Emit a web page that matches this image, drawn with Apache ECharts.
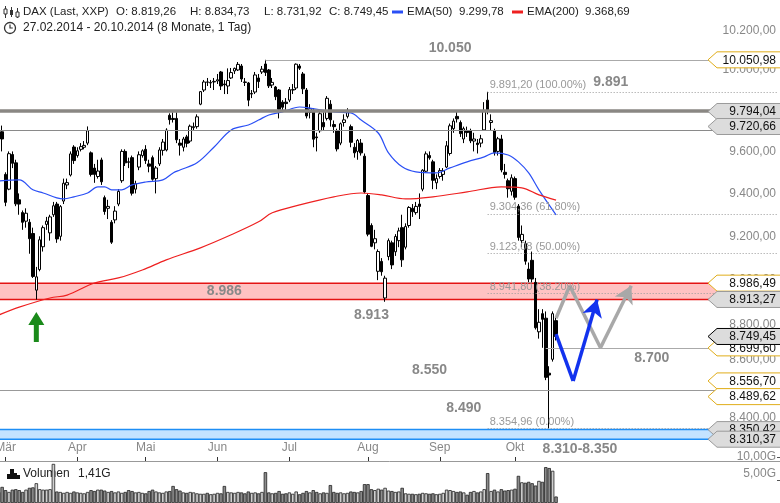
<!DOCTYPE html>
<html><head><meta charset="utf-8">
<script src="https://cdn.jsdelivr.net/npm/echarts@6/dist/echarts.min.js"></script>
<style>html,body{margin:0;padding:0;background:#fff}#c{width:780px;height:503px}</style>
</head><body><div id="c"></div>
<script>
// ---------- data ----------
const monthDays = [
  ['02', [27,28]],
  ['03', [3,4,5,6,7,10,11,12,13,14,17,18,19,20,21,24,25,26,27,28,31]],
  ['04', [1,2,3,4,7,8,9,10,11,14,15,16,17,22,23,24,25,28,29,30]],
  ['05', [2,5,6,7,8,9,12,13,14,15,16,19,20,21,22,23,26,27,28,29,30]],
  ['06', [2,3,4,5,6,9,10,11,12,13,16,17,18,19,20,23,24,25,26,27,30]],
  ['07', [1,2,3,4,7,8,9,10,11,14,15,16,17,18,21,22,23,24,25,28,29,30,31]],
  ['08', [1,4,5,6,7,8,11,12,13,14,15,18,19,20,21,22,25,26,27,28,29]],
  ['09', [1,2,3,4,5,8,9,10,11,12,15,16,17,18,19,22,23,24,25,26,29,30]],
  ['10', [1,2,6,7,8,9,10,13,14,15,16,17,20]]
];
const dates = [];
monthDays.forEach(([m, days]) => days.forEach(d => dates.push('2014-' + m + '-' + String(d).padStart(2,'0'))));

const open = [9610,9695,9490,9420,9585,9545,9370,9310,9270,9265,
9213,8955,9048,9152,9255,9216,9300,9350,9200,9364,
9440,9487,9621,9580,9610,9620,9640,9593,9520,9480,
9559,9380,9330,9265,9276,9350,9460,9600,9550,9570,
9420,9525,9580,9610,9540,9570,9470,9540,9605,9607,
9775,9760,9760,9640,9620,9670,9650,9715,9720,9830,
9900,9940,9935,9940,9945,9990,9930,9920,9960,9995,
10000,10020,9940,9935,9880,9890,9960,9990,10030,10000,
9925,9915,9900,9840,9840,9850,9900,9910,10020,9980,
9900,9790,9800,9670,9700,9740,9760,9830,9730,9700,
9640,9740,9770,9720,9620,9600,9640,9577,9390,9250,
9170,9040,9085,8920,9107,9170,9129,9180,9240,9150,
9250,9330,9310,9350,9420,9505,9580,9550,9450,9480,
9490,9525,9590,9710,9770,9740,9660,9700,9700,9650,
9640,9640,9704,9850,9740,9700,9600,9660,9500,9460,
9410,9470,9340,9180,9166,9050,9090,8990,8770,8850,
8830,8590,8650,8819.26];
const high = [9712,9725,9500,9600,9600,9560,9400,9320,9330,9280,
9240,9060,9200,9250,9290,9300,9360,9360,9345,9470,
9470,9600,9630,9620,9640,9650,9721,9600,9540,9560,
9570,9390,9370,9275,9340,9420,9610,9610,9570,9580,
9460,9600,9610,9630,9560,9580,9530,9620,9660,9712,
9785,9790,9790,9660,9670,9680,9730,9740,9780,9895,
9950,9960,9950,9960,9980,9995,9950,10008,10010,10012,
10040,10030,9960,9940,9900,9990,9980,10020,10051,10005,
9960,9920,9905,9850,9860,9915,9930,10033,10030,9990,
9910,9830,9810,9690,9800,9790,9870,9850,9750,9710,
9740,9780,9810,9730,9640,9660,9660,9590,9400,9260,
9230,9140,9100,9020,9190,9180,9210,9240,9300,9260,
9340,9350,9360,9400,9515,9600,9600,9560,9490,9520,
9520,9650,9735,9760,9800,9750,9720,9720,9710,9690,
9660,9680,9840,9891.2,9780,9710,9670,9680,9540,9470,
9490,9480,9350,9250,9180,9080,9130,9010,8870,8870,
8860,8620,8860,8834.73];
const low = [9590,9600,9340,9415,9520,9340,9300,9230,9240,9120,
9010,8913.27,9040,9130,9230,9180,9290,9170,9180,9350,
9420,9480,9540,9570,9600,9610,9630,9480,9450,9470,
9440,9300,9280,9165,9260,9340,9450,9530,9520,9390,
9400,9510,9570,9540,9500,9460,9400,9530,9580,9600,
9730,9740,9640,9580,9600,9620,9640,9700,9710,9825,
9890,9920,9910,9900,9930,9900,9880,9880,9955,9980,
9995,9940,9920,9820,9860,9880,9910,9980,9970,9910,
9910,9850,9760,9800,9800,9840,9880,9900,10000,9880,
9760,9760,9620,9600,9690,9700,9750,9720,9690,9600,
9630,9720,9760,9620,9570,9560,9580,9400,9200,9150,
9140,9000,9020,8903,9090,9050,9110,9150,9060,9140,
9240,9290,9300,9280,9410,9500,9560,9420,9420,9470,
9460,9520,9580,9690,9740,9670,9640,9670,9640,9600,
9590,9620,9700,9780,9700,9580,9580,9500,9470,9380,
9390,9370,9180,9150,9070,8990,8990,8780,8740,8700,
8560,8354.96,8640,8731.92];
const close = [9700,9660,9358,9589,9543,9351,9350,9265,9307,9189,
9017,9015,9184,9240,9270,9290,9342,9188,9338,9448,
9451,9588,9556,9603,9623,9629,9700,9490,9490,9506,
9455,9315,9339,9173,9317,9409,9600,9545,9548,9401,
9446,9584,9603,9556,9529,9467,9521,9607,9645,9703,
9754,9755,9656,9630,9660,9639,9722,9720,9768,9892,
9940,9939,9938,9943,9951,9920,9926,9947,9987,10008,
10028,9955,9938,9850,9883,9975,9942,10004,9987,9921,
9938,9867,9805,9815,9833,9902,9902,10029,10009,9906,
9772,9808,9659,9666,9783,9719,9859,9753,9720,9612,
9734,9753,9797,9644,9593,9653,9593,9407,9210,9154,
9189,9130,9038,9009,9180,9069,9199,9225,9092,9245,
9334,9314,9339,9339,9510,9588,9569,9462,9470,9508,
9507,9627,9724,9747,9758,9686,9710,9691,9651,9660,
9633,9661,9798,9799,9749,9595,9661,9511,9490,9422,
9474,9382,9195,9209,9086,9005,9005,8788,8812,8825,
8572,8582,8850,8749.45];
// volume in billions (G)
const volume = [2.4,3.5,2.8,2.4,2.9,3.0,2.8,2.4,2.9,3.3,
3.4,4.3,3.0,2.9,2.9,3.0,8.5,2.5,2.4,2.2,
2.4,2.2,2.5,2.3,2.2,2.1,2.4,2.8,2.6,2.9,
2.9,2.7,2.4,2.6,2.3,2.5,2.2,2.4,2.8,2.6,
2.3,2.4,2.2,2.1,2.6,2.9,2.5,2.3,2.2,2.5,
2.6,3.7,3.0,2.7,2.3,2.2,2.4,2.3,2.1,2.0,
2.0,2.2,1.9,2.0,2.2,2.1,3.7,2.4,2.3,2.2,
2.4,2.3,2.1,2.5,2.2,2.3,2.1,2.4,6.7,2.3,
2.1,2.2,2.6,2.0,2.1,2.3,2.0,2.5,1.9,2.2,
2.6,2.3,2.8,2.4,2.1,2.3,2.2,3.9,2.4,2.2,
2.3,2.1,2.2,2.5,2.4,2.3,2.6,4.1,4.1,3.0,
2.8,3.1,2.9,3.3,2.7,2.6,2.4,2.5,3.3,2.1,
2.0,2.0,1.9,2.0,2.2,2.1,2.0,2.1,1.9,2.0,
2.2,2.9,2.8,2.6,2.4,2.5,2.3,1.8,2.4,2.6,
2.3,2.5,3.0,6.5,2.6,2.9,2.5,3.0,2.7,2.8,
2.9,3.1,5.9,4.5,4.4,4.6,4.3,3.8,4.8,4.6,
7.8,7.6,7.0,1.41];

// EMA readings: [day index, value]
const ema50Idx = [0,6,10,13,17,19,22,26,29,31,33,36,39,43,48,51,53,58,63,68,73,76,79,83,88,91,98,103,106,111,114,118,122,128,132,137,142,145,149,152,155,158,163];
const ema50Val = [9459,9464,9417,9402,9379,9374,9384,9402,9431,9431,9417,9417,9440,9454,9464,9497,9511,9545,9621,9704,9728,9752,9777,9792,9816,9811,9792,9787,9752,9689,9593,9526,9502,9497,9521,9550,9574,9593,9583,9550,9497,9417,9299.78];
const ema200Idx = [0,6,15,20,28,35,42,49,59,68,76,80,88,98,106,112,119,127,137,147,153,158,163];
const ema200Val = [8844,8879,8920,8933,8987,9010,9046,9092,9147,9207,9267,9309,9346,9384,9402,9393,9374,9384,9407,9431,9426,9393,9368.69];

// levels
const yTicks = [8400,8600,8800,9000,9200,9400,9600,9800,10000,10200];
const volTicks = [5,10];
const fibValues = [9891.20, 9304.36, 9123.08, 8941.80, 8354.96];
const fibPct = ['100.00%','61.80%','50.00%','38.20%','0.00%'];
const fibStart = 143;
const tagValues = [10050.98, 9794.04, 9720.66, 8986.49, 8913.27, 8699.60, 8749.45, 8556.70, 8489.62, 8350.42, 8310.37];
const tagKinds  = ['y','g','g','y','g','y','c','y','y','g','g'];
const redZone = [8986.49, 8913.27];
const blueZone = [8350.42, 8310.37];
const athStart = 78, ath = 10050.98;
const l8700Start = 160, l8700 = 8699.60;

// annotations (text, anchor day index, anchor value)
const annoText = ['10.050','9.891','8.986','8.913','8.700','8.550','8.490','8.310-8.350'];
const annoIdx  = [132, 179, 66, 109, 191, 126, 136, 170];
const annoVal  = [10111, 9940, 8951, 8844, 8656, 8604, 8441, 8270];

// projected paths
const grayIdx = [163, 167, 176, 185];
const grayVal = [8830, 8975, 8700, 8975];
const blueIdx = [163, 168, 175];
const blueVal = [8760, 8556.7, 8913];

const arrowIdx = 11, arrowVal = 8791;

// ---------- helpers ----------
const L = Math.log;
function de(v, d) {
  const s = v.toFixed(d);
  let [i, f] = s.split('.');
  i = i.replace(/\B(?=(\d{3})+(?!\d))/g, '.');
  return f ? i + ',' + f : i;
}
const FONT = '"Liberation Sans", Arial, sans-serif';
const N = 229;
const cats = dates.concat(Array(N - dates.length).fill(0).map((_, k) => 'f' + k));
const monthStarts = [];
for (let i = 1; i < dates.length; i++) if (dates[i].slice(5,7) !== dates[i-1].slice(5,7)) monthStarts.push(i);
const MONTHS = ['Jan','Feb','Mär','Apr','Mai','Jun','Jul','Aug','Sep','Okt','Nov','Dez'];

const candleData = dates.map((d, i) => [L(open[i]), L(close[i]), L(low[i]), L(high[i])]);

function segs(idx, val, color) {
  const out = [];
  for (let k = 0; k < idx.length - 1; k++) {
    const last = k === idx.length - 2;
    out.push([
      {coord: [idx[k], L(val[k])], symbol: 'none', lineStyle: {color, width: 3.5, type: 'solid'}},
      {coord: [idx[k+1], L(val[k+1])], symbol: last ? 'arrow' : 'none', symbolSize: last ? [15, 17] : 0}
    ]);
  }
  return out;
}

const levelLines = [
  {yAxis: L(9794.04), lineStyle: {color: '#8a8783', width: 3.5, type: 'solid'}},
  {yAxis: L(9720.66), lineStyle: {color: '#8a8a8a', width: 1.2, type: 'solid'}},
  {yAxis: L(8556.70), lineStyle: {color: '#999', width: 1.2, type: 'solid'}},
  {yAxis: L(8489.62), lineStyle: {color: '#999', width: 1.2, type: 'solid'}},
  [{coord: [athStart, L(ath)], lineStyle: {color: '#aaa', width: 1.2, type: 'solid'}}, {coord: [N - 1, L(ath)]}],
  [{coord: [l8700Start, L(l8700)], lineStyle: {color: '#aaa', width: 1.2, type: 'solid'}}, {coord: [N - 1, L(l8700)]}]
];
fibValues.forEach((v, k) => {
  levelLines.push([
    {coord: [fibStart, L(v)], lineStyle: {color: '#999', width: 1, type: [1, 2]},
     label: {show: true, position: 'insideStartTop', distance: [2, 1], formatter: de(v, 2) + ' (' + fibPct[k] + ')',
             color: '#999', fontSize: 11, fontFamily: FONT}},
    {coord: [N - 1, L(v)]}
  ]);
});

const chart = echarts.init(document.getElementById('c'), null, {renderer: 'canvas'});
chart.setOption({
  animation: false,
  backgroundColor: '#fff',
  grid: [
    {left: -3, right: 0, top: 0, bottom: 42, containLabel: false, outerBoundsMode: 'none'},
    {left: -3, right: 0, top: 455, bottom: 0, containLabel: false, outerBoundsMode: 'none'}
  ],
  xAxis: [
    {type: 'category', gridIndex: 0, data: cats, boundaryGap: true, show: false},
    {type: 'category', gridIndex: 1, data: cats, boundaryGap: true, show: false},
    // month axis (same scale as the day index: -0.5 .. N-0.5)
    {type: 'value', gridIndex: 0, position: 'bottom', min: -0.5, max: N - 0.5,
     axisLine: {show: true, onZero: false, lineStyle: {color: '#999', width: 1}},
     axisTick: {show: true, inside: true, length: 4, customValues: monthStarts, lineStyle: {color: '#333'}},
     axisLabel: {show: true, inside: true, margin: 7, customValues: monthStarts, color: '#888', fontSize: 12, fontFamily: FONT,
                 formatter: (v) => { const d = dates[Math.round(v)]; return d ? MONTHS[parseInt(d.slice(5,7), 10) - 1] : ''; }},
     splitLine: {show: false}}
  ],
  yAxis: [
    {type: 'value', gridIndex: 0, position: 'right', min: L(8220), max: L(10357),
     splitLine: {show: false}, axisLine: {show: false},
     axisTick: {show: true, inside: true, length: 3, customValues: yTicks.map(L), lineStyle: {color: '#555'}},
     axisLabel: {show: true, inside: true, margin: 4, customValues: yTicks.map(L), color: '#888', fontSize: 12, fontFamily: FONT,
                 formatter: (v) => {
                   const n = Math.round(Math.exp(v));
                   const t = de(n, 2);
                   return n === 8600 ? '{s|' + t + '}' : t;
                 },
                 rich: {s: {color: '#888', fontSize: 12, fontFamily: FONT, padding: [0, 0, 22, 0]}}}},
    {type: 'value', gridIndex: 1, position: 'right', min: 0, max: 10.43,
     splitLine: {show: false}, axisLine: {show: false},
     axisTick: {show: true, inside: true, length: 3, customValues: volTicks, lineStyle: {color: '#555'}},
     axisLabel: {show: true, inside: true, margin: 4, customValues: volTicks, color: '#888', fontSize: 12, fontFamily: FONT,
                 formatter: (v) => v === 5 ? '{s|' + de(v, 2) + 'G}' : de(v, 2) + 'G',
                 rich: {s: {color: '#888', fontSize: 12, fontFamily: FONT, padding: [0, 0, 12, 0]}}}}
  ],
  series: [
    {name: 'zones', type: 'line', data: [], z: 1, silent: true,
     markArea: {silent: true, data: [
       [{yAxis: L(redZone[0]), itemStyle: {color: '#ffc2c2', borderColor: '#e41414', borderWidth: 1.5}}, {yAxis: L(redZone[1])}],
       [{yAxis: L(blueZone[0]), itemStyle: {color: '#c4e3ff', borderColor: '#1e8ef5', borderWidth: 1.5}}, {yAxis: L(blueZone[1])}]
     ]}},
    {name: 'levels', type: 'line', data: [], z: 2, silent: true,
     markLine: {silent: true, symbol: ['none', 'none'], label: {show: false}, data: levelLines}},
    {name: 'DAX', type: 'candlestick', data: candleData, z: 3, barWidth: 3,
     itemStyle: {color: '#ffffff', color0: '#000000', borderColor: '#000000', borderColor0: '#000000', borderWidth: 1}},
    {name: 'EMA(50)', type: 'line', data: ema50Idx.map((x, k) => [x, L(ema50Val[k])]), z: 4, symbol: 'none', smooth: 0.35,
     lineStyle: {color: '#2a4ff5', width: 1.2}},
    {name: 'EMA(200)', type: 'line', data: ema200Idx.map((x, k) => [x, L(ema200Val[k])]), z: 4, symbol: 'none', smooth: 0.35,
     lineStyle: {color: '#ee2020', width: 1.2}},
    {name: 'proj', type: 'line', data: [], z: 5, silent: true,
     markLine: {silent: true, symbol: ['none', 'none'], label: {show: false},
                data: segs(grayIdx, grayVal, '#a8a8a8').concat(segs(blueIdx, blueVal, '#1232ee'))}},
    {name: 'notes', type: 'line', data: [], z: 6, silent: true,
     markPoint: {silent: true, symbol: 'circle', symbolSize: 1, itemStyle: {color: 'rgba(0,0,0,0)'},
       label: {show: true, position: 'inside', formatter: (p) => p.name, color: '#888', fontSize: 14, fontWeight: 'bold', fontFamily: FONT},
       data: annoText.map((t, k) => ({name: t, coord: [annoIdx[k], L(annoVal[k])]})).concat([
         {name: 'arrow', coord: [arrowIdx, L(arrowVal)], symbol: 'path://M8,0 L16,13 L10.5,13 L10.5,30 L5.5,30 L5.5,13 L0,13 Z',
          symbolSize: [16, 30], itemStyle: {color: '#1a8a1a'}, label: {show: false}}
       ])}},
    {name: 'tags', type: 'custom', z: 10, silent: true,
     data: tagValues.map(v => [0, L(v)]),
     encode: {x: 0, y: 1},
     renderItem: (params, api) => {
       const i = params.dataIndex;
       const y = api.coord([0, api.value(1)])[1];
       const cs = params.coordSys;
       const xR = cs.x + cs.width;
       const x0 = xR - 72;
       const h = 8;
       const k = tagKinds[i];
       const fill = k === 'y' ? '#ffffff' : '#dcdcdc';
       const stroke = k === 'y' ? '#e0ad1a' : (k === 'c' ? '#000000' : '#9a9a9a');
       return {type: 'group', children: [
         {type: 'polygon', shape: {points: [[x0, y], [x0 + 9, y - h], [xR + 2, y - h], [xR + 2, y + h], [x0 + 9, y + h]]},
          style: {fill: fill, stroke: stroke, lineWidth: 1}},
         {type: 'text', style: {text: de(tagValues[i], 2), x: xR - 4, y: y + 0.5, align: 'right', verticalAlign: 'middle',
          fill: '#111', font: '12px ' + FONT}}
       ]};
     }},
    {name: 'Volumen', type: 'bar', xAxisIndex: 1, yAxisIndex: 1, data: volume, barCategoryGap: '0%',
     itemStyle: {color: (p) => close[p.dataIndex] >= open[p.dataIndex] ? '#d0d0d0' : '#8c8c8c', borderColor: '#222', borderWidth: 0.8}}
  ],
  graphic: [
    // header icon (candles)
    {type: 'group', x: 3, y: 5, children: [
      {type: 'line', shape: {x1: 2.5, y1: 1, x2: 2.5, y2: 13}, style: {stroke: '#333', lineWidth: 1}},
      {type: 'rect', shape: {x: 1, y: 4, width: 3, height: 5}, style: {fill: '#fff', stroke: '#333', lineWidth: 1}},
      {type: 'line', shape: {x1: 8.5, y1: 2, x2: 8.5, y2: 12}, style: {stroke: '#333', lineWidth: 1}},
      {type: 'rect', shape: {x: 7, y: 5, width: 3, height: 5}, style: {fill: '#333'}},
      {type: 'line', shape: {x1: 14.5, y1: 3, x2: 14.5, y2: 13}, style: {stroke: '#333', lineWidth: 1}},
      {type: 'rect', shape: {x: 13, y: 7, width: 3, height: 5}, style: {fill: '#fff', stroke: '#333', lineWidth: 1}}
    ]},
    {type: 'text', x: 23, y: 12, style: {text: 'DAX (Last, XXP)', font: '11.5px ' + FONT, fill: '#222', verticalAlign: 'middle'}},
    {type: 'text', x: 116, y: 12, style: {text: 'O: 8.819,26', font: '11.5px ' + FONT, fill: '#222', verticalAlign: 'middle'}},
    {type: 'text', x: 190, y: 12, style: {text: 'H: 8.834,73', font: '11.5px ' + FONT, fill: '#222', verticalAlign: 'middle'}},
    {type: 'text', x: 264, y: 12, style: {text: 'L: 8.731,92', font: '11.5px ' + FONT, fill: '#222', verticalAlign: 'middle'}},
    {type: 'text', x: 329, y: 12, style: {text: 'C: 8.749,45', font: '11.5px ' + FONT, fill: '#222', verticalAlign: 'middle'}},
    {type: 'rect', shape: {x: 392, y: 10.5, width: 11, height: 3}, style: {fill: '#2a4ff5'}},
    {type: 'text', x: 407, y: 12, style: {text: 'EMA(50)', font: '11.5px ' + FONT, fill: '#222', verticalAlign: 'middle'}},
    {type: 'text', x: 459, y: 12, style: {text: '9.299,78', font: '11.5px ' + FONT, fill: '#222', verticalAlign: 'middle'}},
    {type: 'rect', shape: {x: 512, y: 10.5, width: 11, height: 3}, style: {fill: '#ee2020'}},
    {type: 'text', x: 527, y: 12, style: {text: 'EMA(200)', font: '11.5px ' + FONT, fill: '#222', verticalAlign: 'middle'}},
    {type: 'text', x: 585, y: 12, style: {text: '9.368,69', font: '11.5px ' + FONT, fill: '#222', verticalAlign: 'middle'}},
    // clock icon
    {type: 'circle', shape: {cx: 10, cy: 28, r: 5.5}, style: {fill: 'none', stroke: '#333', lineWidth: 1.3}},
    {type: 'polyline', shape: {points: [[10, 24.5], [10, 28], [12.8, 28]]}, style: {fill: 'none', stroke: '#333', lineWidth: 1.2}},
    {type: 'text', x: 23, y: 28, style: {text: '27.02.2014 - 20.10.2014 (8 Monate, 1 Tag)', font: '12px ' + FONT, fill: '#222', verticalAlign: 'middle'}},
    // volume legend
    {type: 'polygon', shape: {points: [[7, 479], [7, 474], [10, 474], [10, 469], [14, 469], [14, 473], [17, 473], [17, 475], [20, 475], [20, 479]]}, style: {fill: '#111'}},
    {type: 'text', x: 23, y: 474, style: {text: 'Volumen', font: '12px ' + FONT, fill: '#222', verticalAlign: 'middle'}},
    {type: 'text', x: 78, y: 474, style: {text: '1,41G', font: '12px ' + FONT, fill: '#222', verticalAlign: 'middle'}}
  ]
});
</script>
</body></html>
